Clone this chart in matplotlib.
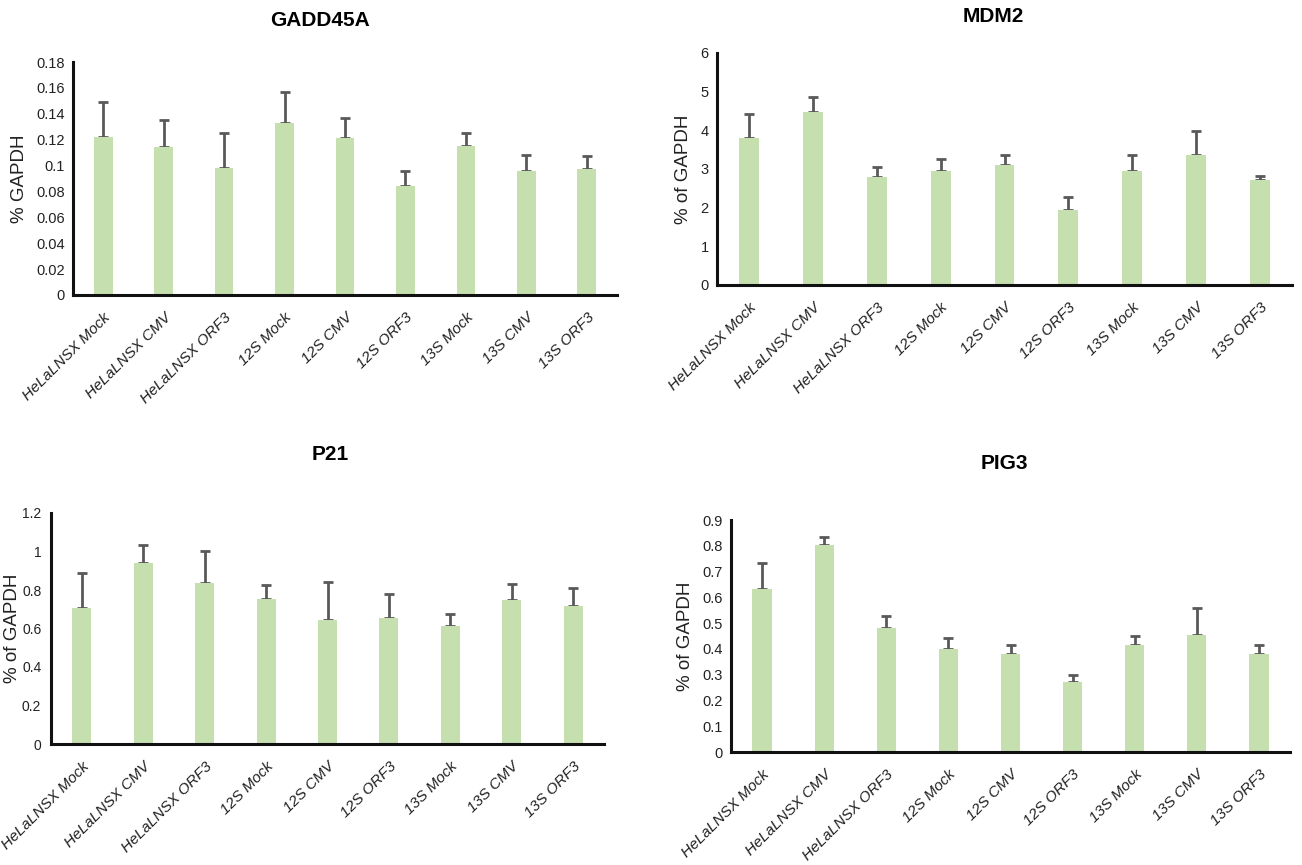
import matplotlib.pyplot as plt
import numpy as np

plt.rcParams['font.family'] = ['Liberation Sans', 'DejaVu Sans']

groups = ["HeLaLNSX Mock", "HeLaLNSX CMV", "HeLaLNSX ORF3", "12S Mock", "12S CMV",
          "12S ORF3", "13S Mock", "13S CMV", "13S ORF3"]

gadd45a = [0.122, 0.114, 0.098, 0.133, 0.121, 0.084, 0.115, 0.096, 0.097]
gadd45a_top = [0.149, 0.135, 0.125, 0.157, 0.137, 0.096, 0.125, 0.108, 0.107]

mdm2 = [3.80, 4.47, 2.79, 2.95, 3.11, 1.94, 2.95, 3.37, 2.71]
mdm2_top = [4.42, 4.85, 3.06, 3.25, 3.37, 2.28, 3.37, 3.98, 2.82]

p21 = [0.709, 0.942, 0.834, 0.755, 0.645, 0.653, 0.614, 0.746, 0.715]
p21_top = [0.887, 1.033, 1.004, 0.825, 0.839, 0.779, 0.677, 0.830, 0.808]

pig3 = [0.633, 0.804, 0.482, 0.399, 0.382, 0.271, 0.417, 0.452, 0.382]
pig3_top = [0.734, 0.833, 0.528, 0.444, 0.416, 0.299, 0.451, 0.557, 0.416]

W, H = 1302, 865
fig = plt.figure(figsize=(W / 100, H / 100), dpi=100)

bar_color = "#c6dfaf"
err_color = "#595959"


def panel(x0, x1, y_top, y_bot, title, title_xy, vals, tops, ymax, step, ylabel, fmt,
          ytick_size=10.5, ylabel_pad=6, ytick_pad=6):
    ax = fig.add_axes([x0 / W, 1 - y_bot / H, (x1 - x0) / W, (y_bot - y_top) / H])
    x = np.arange(len(groups))
    err = np.array(tops) - np.array(vals)
    ax.bar(x, vals, width=0.31, color=bar_color, zorder=2)
    # upper error bars only
    ax.errorbar(x, vals, yerr=[np.zeros(len(vals)), err], fmt="none",
                ecolor=err_color, elinewidth=2, capsize=3.5, capthick=2, zorder=1)
    ax.set_xlim(-0.5, len(groups) - 0.5)
    ax.set_ylim(0, ymax)
    ticks = np.arange(0, ymax + step / 2, step)
    ax.set_yticks(ticks)
    ax.set_yticklabels([fmt(t) for t in ticks])
    ax.set_xticks(x)
    ax.set_xticklabels(groups, rotation=45, ha="right", rotation_mode="anchor",
                       style="italic", fontsize=11, color="#222222")
    ax.tick_params(length=0, colors="#222222")
    ax.tick_params(axis="x", pad=11)
    ax.tick_params(axis="y", pad=ytick_pad, labelsize=ytick_size)
    for s in ["top", "right"]:
        ax.spines[s].set_visible(False)
    for s in ["left", "bottom"]:
        ax.spines[s].set_linewidth(2.2)
        ax.spines[s].set_color("#111111")
    ax.set_ylabel(ylabel, fontsize=13.5, color="#222222", labelpad=ylabel_pad)
    fig.text(title_xy[0] / W, 1 - title_xy[1] / H, title, ha="center", va="center",
             fontsize=15, fontweight="bold")
    return ax


def fmt_plain(t):
    s = f"{t:.2f}".rstrip("0").rstrip(".")
    return s


panel(73, 617, 62, 295, "GADD45A", (320, 20), gadd45a, gadd45a_top, 0.18, 0.02,
      "% GAPDH", fmt_plain)
panel(717, 1292, 53, 285, "MDM2", (993, 16), mdm2, mdm2_top, 6, 1,
      "% of GAPDH", lambda t: f"{t:g}")
panel(51, 604, 513, 744, "P21", (330, 455), p21, p21_top, 1.2, 0.2,
      "% of GAPDH", fmt_plain, ytick_size=10, ylabel_pad=1, ytick_pad=7)
panel(731, 1290, 520, 752, "PIG3", (1004, 464), pig3, pig3_top, 0.9, 0.1,
      "% of GAPDH", fmt_plain)

fig.savefig("out.png", dpi=100)
